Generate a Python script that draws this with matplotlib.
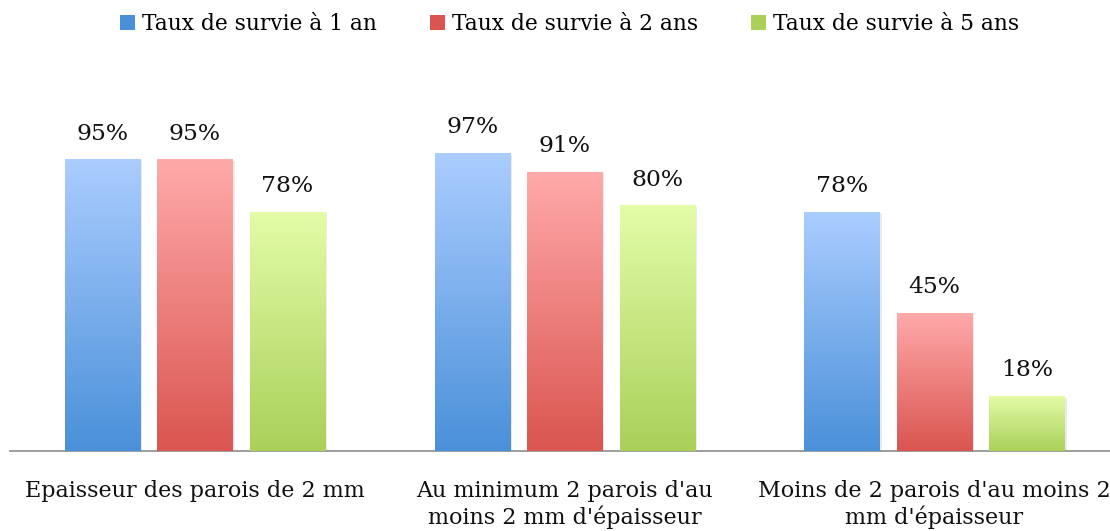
import numpy as np
import matplotlib
matplotlib.use("Agg")
import matplotlib.pyplot as plt
from matplotlib.colors import LinearSegmentedColormap
from matplotlib.patches import Patch

categories = ["Epaisseur des parois de 2 mm",
              "Au minimum 2 parois d'au\nmoins 2 mm d'épaisseur",
              "Moins de 2 parois d'au moins 2\nmm d'épaisseur"]
series_names = ["Taux de survie à 1 an", "Taux de survie à 2 ans", "Taux de survie à 5 ans"]
survie_1an = [95, 97, 78]
survie_2ans = [95, 91, 45]
survie_5ans = [78, 80, 18]

# couleurs (haut, bas) du dégradé
couleurs = [("#abcdff", "#4a90d9"), ("#ffaaaa", "#da5550"), ("#e3fda8", "#aad05a")]

plt.rcParams['font.family'] = ['DejaVu Serif']

fig = plt.figure(figsize=(11.1, 5.31), dpi=100)
ax = fig.add_axes([10 / 1110, (531 - 451) / 531, 1100 / 1110, 307 / 531])

x = np.arange(len(categories))
largeur = 0.203
pas = 0.25
valeurs = [survie_1an, survie_2ans, survie_5ans]

for i, serie in enumerate(valeurs):
    cmap = LinearSegmentedColormap.from_list("g%d" % i, [couleurs[i][1], couleurs[i][0]])
    grad = np.linspace(0, 1, 256).reshape(-1, 1)
    pos = x + (i - 1) * pas
    for xp, v in zip(pos, serie):
        # ombre legere
        ax.bar(xp + 0.006, v, largeur, bottom=-0.6, color="#000000", alpha=0.08, zorder=1)
        b = ax.bar(xp, v, largeur, color="none", zorder=2)[0]
        im = ax.imshow(grad, cmap=cmap, origin="lower", aspect="auto",
                       extent=[xp - largeur / 2, xp + largeur / 2, 0, v], zorder=3)
        im.set_clip_path(b)
        ax.text(xp, v + 4.8, "%d%%" % v, ha="center", va="bottom", fontsize=16.8, color="#111111")

ax.set_xlim(-0.5, 2.475)
ax.set_ylim(0, 100)
for s in ["top", "right", "left"]:
    ax.spines[s].set_visible(False)
ax.spines["bottom"].set_color("#8c8c8c")
ax.spines["bottom"].set_linewidth(1.2)
ax.set_yticks([])
ax.set_xticks(x)
ax.set_xticklabels(categories, fontsize=16, color="#111111", linespacing=1.2)
ax.tick_params(axis="x", length=0, pad=21)

handles = [Patch(facecolor=couleurs[i][1], edgecolor="none") for i in range(3)]
fig.legend(handles, series_names, loc="upper center", bbox_to_anchor=(0.513, 1.012),
           ncol=3, frameon=False, fontsize=15.7, handlelength=0.7, handleheight=0.7,
           handletextpad=0.3, columnspacing=2.45)

fig.savefig("out.png", dpi=100)
